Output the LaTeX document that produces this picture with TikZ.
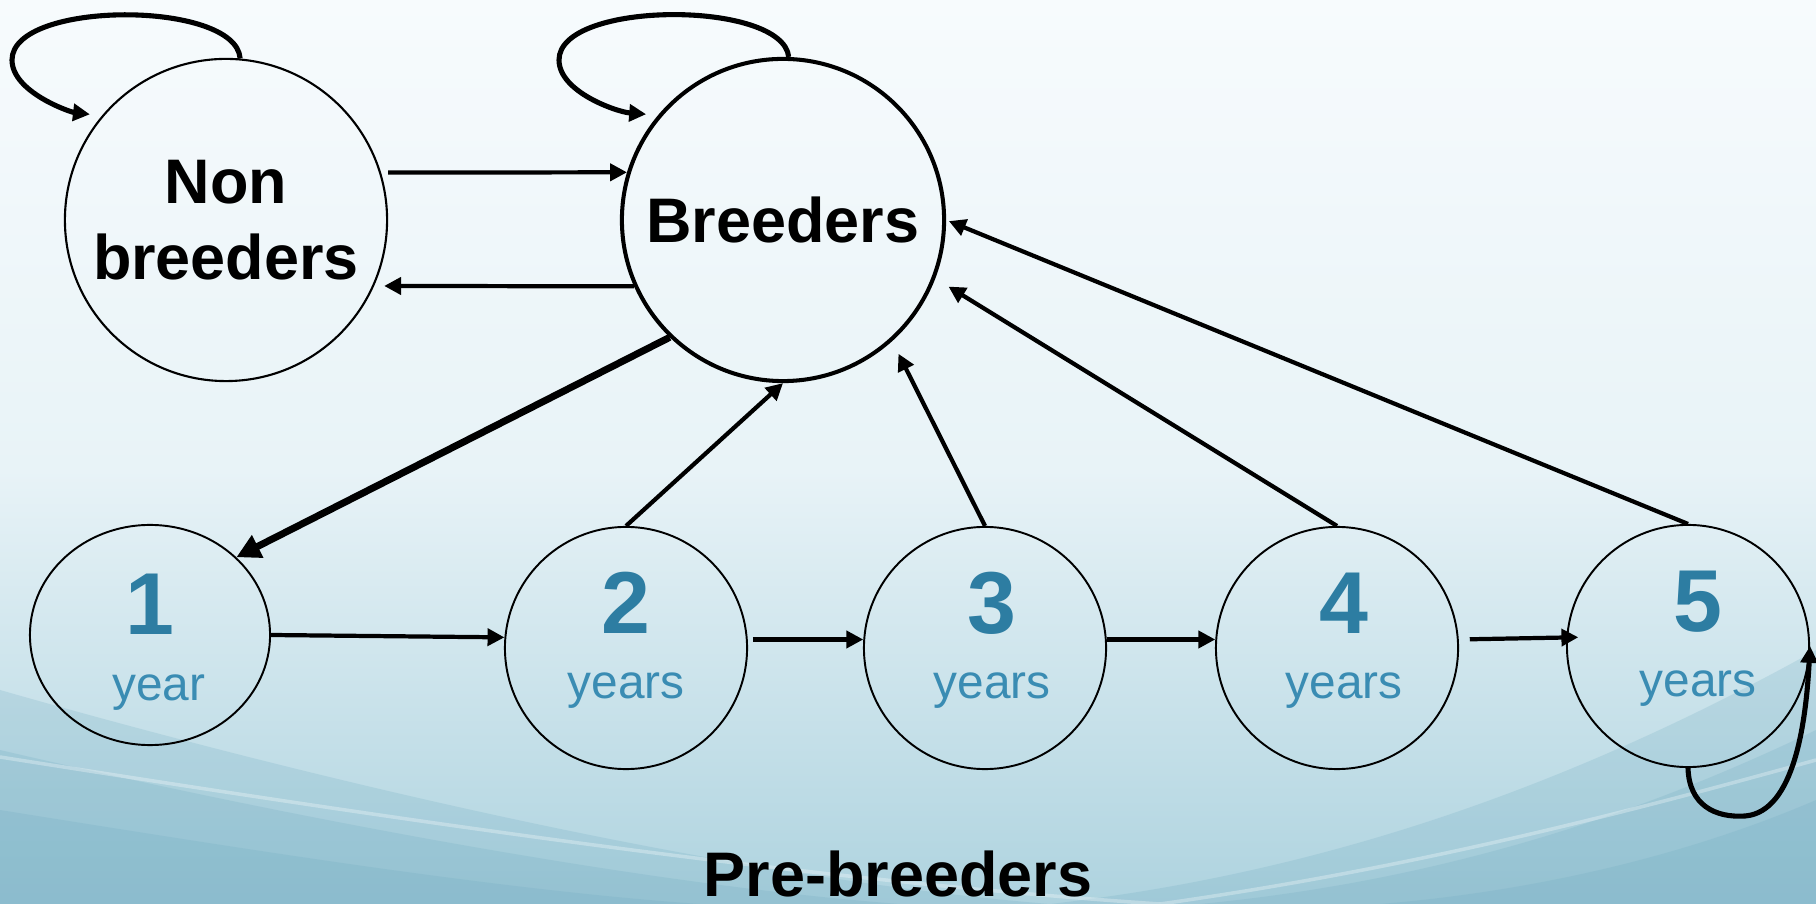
\documentclass[tikz,border=0pt]{standalone}
\usepackage{fontspec}
\setmainfont{Liberation Sans}
\usetikzlibrary{arrows.meta,shapes.geometric}
\definecolor{numblue}{HTML}{2D7DA2}
\definecolor{yrblue}{HTML}{3A8CB3}
\definecolor{bgtop}{HTML}{F7FBFD}
\definecolor{bgmid}{HTML}{E8F3F7}
\definecolor{bgbot}{HTML}{AED3DF}
\definecolor{bgdark}{HTML}{6FAAC0}
\tikzset
{
  stage/.style={circle,draw,line width=0.6pt,minimum size=3.22cm,inner sep=0pt,align=center,
    font=\bfseries\fontsize{17.9}{21.6}\selectfont},
  age/.style={circle,draw,line width=0.55pt,minimum size=2.42cm,inner sep=0pt},
  num/.style={text=numblue,font=\bfseries\fontsize{25}{30}\selectfont,inner sep=0pt,anchor=base},
  yr/.style={text=yrblue,font=\fontsize{13.6}{16}\selectfont,inner sep=0pt,anchor=base},
  title/.style={font=\bfseries\fontsize{17.9}{21.6}\selectfont,inner sep=0pt,anchor=base},
  link/.style={line width=1.2pt,-{Triangle[length=4.8pt,width=4.8pt]}},
  link thick/.style={line width=2pt,-{Triangle[length=6.8pt,width=6.8pt]}},
  selfloop/.style={line width=1.45pt,-{Triangle[length=4.8pt,width=4.8pt]}},
  swoosh/.style={bgdark,opacity=0.22}
}

\begin{document}
\begin{tikzpicture}[x=0.01cm,y=-0.01cm,line join=round]
  \useasboundingbox (0,0) rectangle (1816,904);
  % background
  \shade[top color=bgtop,bottom color=bgmid] (0,0) rectangle (1816,470);
  \shade[top color=bgmid,bottom color=bgbot] (0,470) rectangle (1816,904);
  \fill[swoosh] (0,690) .. controls (350,790) and (750,880) .. (1050,904) -- (0,904) -- cycle;
  \fill[swoosh] (0,750) .. controls (300,820) and (650,885) .. (900,904) -- (0,904) -- cycle;
  \fill[swoosh] (0,810) .. controls (250,850) and (500,890) .. (700,904) -- (0,904) -- cycle;
  \fill[swoosh] (1816,650) .. controls (1600,770) and (1350,870) .. (1050,904) -- (1816,904) -- cycle;
  \fill[swoosh] (1816,730) .. controls (1650,810) and (1450,880) .. (1200,904) -- (1816,904) -- cycle;
  \fill[swoosh] (1816,800) .. controls (1700,850) and (1550,890) .. (1380,904) -- (1816,904) -- cycle;
  \draw[white,opacity=0.3,line width=1pt] (0,757) .. controls (400,820) and (800,880) .. (1160,904);
  \draw[white,opacity=0.3,line width=1pt] (1816,760) .. controls (1600,820) and (1400,870) .. (1160,904);
  % adult stages
  \node[stage] (NB) at (226,220) {Non\\breeders};
  \node[stage,line width=1.15pt] (B) at (783,220) {Breeders};
  % pre-breeder ages
  \node[age,ellipse,minimum width=2.4cm,minimum height=2.2cm] (c1) at (150,635) {};
  \node[num] (n1) at (c1.center) {1};
  \node[yr] (y1) at ([xshift=0.09cm,yshift=-0.65cm]c1.center) {year};
  \foreach \i/\xx/\yy/\dx in {2/626/648/0,3/985/648/0.07,4/1337/648/0.07,5/1688/646/0.1}
  {
    \node[age] (c\i) at (\xx,\yy) {};
    \node[num] (n\i) at ([xshift=\dx cm,yshift=0.14cm]c\i.center) {\i};
    \node[yr] (y\i) at ([xshift=\dx cm,yshift=-0.5cm]c\i.center) {years};
  }
  \node[title] (pre) at (898,896) {Pre-breeders};
  % between adult stages
  \draw[link,shorten <=0.07cm] (NB.17) -- (B.163);
  \draw[link,shorten >=0.1cm] (B.204) -- (NB.-24);
  % recruitment
  \draw[link thick] (B.226) -- (c1.42);
  \draw[link] (c2.north) -- (B.south);
  \draw[link,shorten >=0.14cm] (c3.north) -- (B.-48);
  \draw[link,shorten >=0.155cm] (c4.north) -- (B.-21);
  \draw[link,shorten >=0.03cm] (c5.north) -- (B.east);
  % ageing
  \draw[link] (c1.east) -- (c2.175);
  \draw[link,shorten <=0.05cm] (c2.4) -- (c3.176);
  \draw[link] (c3.4) -- (c4.176);
  \draw[link,shorten <=0.11cm,shorten >=-0.12cm] (c4.4) -- (c5.176);
  % staying put
  \draw[selfloop,shorten >=0.12cm] (NB.85) .. controls (236,0) and (12,0) .. (12,60)
     .. controls (12,92) and (70,112) .. (NB.140);
  \draw[selfloop,shorten >=0.12cm] (B.88) .. controls (783,0) and (559,0) .. (559,60)
     .. controls (559,92) and (617,112) .. (B.140);
  \draw[selfloop] (c5.south) .. controls (1689,805) and (1715,818) .. (1745,816)
     .. controls (1795,812) and (1806,720) .. (c5.east);
\end{tikzpicture}
\end{document}
